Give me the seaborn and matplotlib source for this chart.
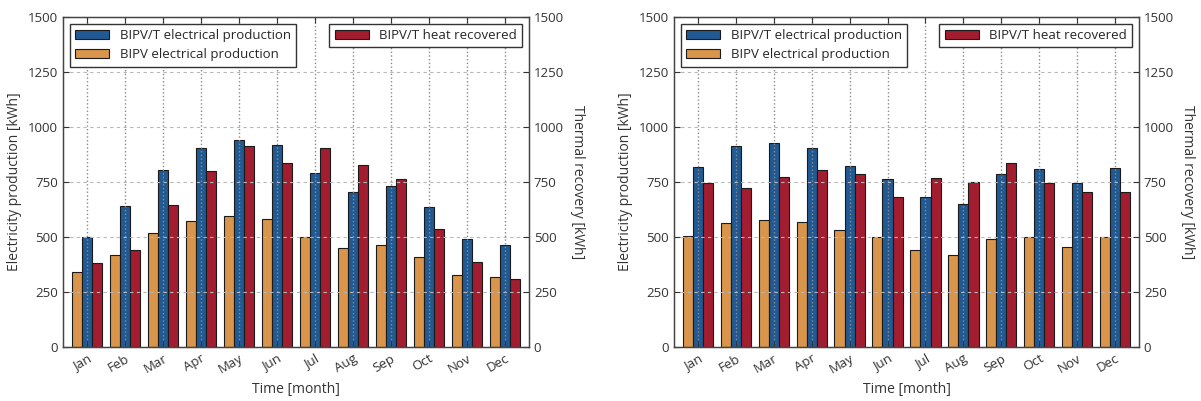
import matplotlib
matplotlib.use("Agg")
from matplotlib import pyplot as plt
import pandas as pd
import seaborn as sns

months = ["Jan", "Feb", "Mar", "Apr", "May", "Jun",
          "Jul", "Aug", "Sep", "Oct", "Nov", "Dec"]

# left panel
bipvt_elec_a = [501, 641, 805, 903, 941, 918, 792, 706, 732, 638, 490, 464]
bipv_elec_a = [342, 418, 517, 571, 595, 582, 501, 451, 464, 410, 327, 320]
heat_a = [380, 441, 647, 800, 915, 838, 906, 826, 762, 535, 388, 308]

# right panel
bipvt_elec_b = [817, 914, 926, 903, 823, 764, 683, 650, 786, 808, 747, 815]
bipv_elec_b = [506, 565, 577, 570, 532, 502, 441, 418, 490, 501, 456, 501]
heat_b = [747, 724, 774, 805, 788, 683, 770, 751, 838, 747, 706, 703]

LBL_T = "BIPV/T electrical production"
LBL_PV = "BIPV electrical production"
LBL_H = "BIPV/T heat recovered"
hue_order = [LBL_PV, LBL_T, LBL_H]
palette = {LBL_PV: "#d8954b", LBL_T: "#215a92", LBL_H: "#a21d2f"}

sns.set_style("white")
plt.rcParams["font.family"] = ["Open Sans", "DejaVu Sans"]


def draw_panel(ax, bipvt, bipv, heat):
    """Draw one panel with three grouped bars per month."""
    df = pd.DataFrame({
        "month": months * 3,
        "value": bipv + bipvt + heat,
        "series": [LBL_PV] * 12 + [LBL_T] * 12 + [LBL_H] * 12,
    })
    sns.barplot(data=df, x="month", y="value", hue="series",
                hue_order=hue_order, palette=palette, order=months,
                width=0.8, saturation=1, edgecolor="#1a1a1a",
                linewidth=0.8, legend=False, ax=ax)
    ax.set_xlim(-0.63, 11.63)
    ax.set_ylim(0, 1500)
    ax.set_yticks([0, 250, 500, 750, 1000, 1250, 1500])
    ax.set_xlabel("Time [month]", fontsize=10, color="#333333")
    ax.set_ylabel("Electricity production [kWh]", fontsize=10,
                  color="#333333")
    ax.tick_params(axis="x", labelrotation=30, labelsize=9.5,
                   direction="in", top=True, bottom=True, length=4,
                   colors="#333333")
    ax.tick_params(axis="y", labelsize=9.5, direction="in", left=True,
                   length=4, colors="#333333")
    for lbl in ax.get_xticklabels():
        lbl.set_ha("right")
        lbl.set_rotation_mode("anchor")
    ax.set_axisbelow(False)
    ax.grid(True, axis="x", color="#8a8a8a", linestyle=":", linewidth=1.0)
    ax.grid(True, axis="y", color="#b8b8b8", linestyle=(0, (3, 3)),
            linewidth=0.8)
    for sp in ax.spines.values():
        sp.set_color("#444444")
        sp.set_linewidth(1.0)

    ax2 = ax.twinx()
    ax2.set_ylim(0, 1500)
    ax2.set_yticks([0, 250, 500, 750, 1000, 1250, 1500])
    ax2.set_ylabel("Thermal recovery [kWh]", rotation=270, labelpad=15,
                   fontsize=10, color="#333333")
    ax2.tick_params(axis="y", labelsize=9.5, direction="in", right=True,
                    length=4, colors="#333333")
    for sp in ax2.spines.values():
        sp.set_color("#444444")

    bars = ax.containers
    leg1 = ax2.legend([bars[1][0], bars[0][0]], [LBL_T, LBL_PV],
                      loc="upper left", fontsize=9.5, fancybox=False,
                      edgecolor="#333333", framealpha=1,
                      borderaxespad=0.5, handlelength=2.6)
    leg1.get_frame().set_linewidth(1.0)
    ax2.add_artist(leg1)
    leg2 = ax2.legend([bars[2][0]], [LBL_H], loc="upper right",
                      fontsize=9.5, fancybox=False, edgecolor="#333333",
                      framealpha=1, borderaxespad=0.5, handlelength=2.6)
    leg2.get_frame().set_linewidth(1.0)


fig = plt.figure(figsize=(12.01, 4.01), dpi=100)
ax_a = fig.add_axes([63 / 1201, 54 / 401, 466 / 1201, 330 / 401])
ax_b = fig.add_axes([674 / 1201, 54 / 401, 465 / 1201, 330 / 401])
draw_panel(ax_a, bipvt_elec_a, bipv_elec_a, heat_a)
draw_panel(ax_b, bipvt_elec_b, bipv_elec_b, heat_b)

fig.savefig("out.png", dpi=100)
